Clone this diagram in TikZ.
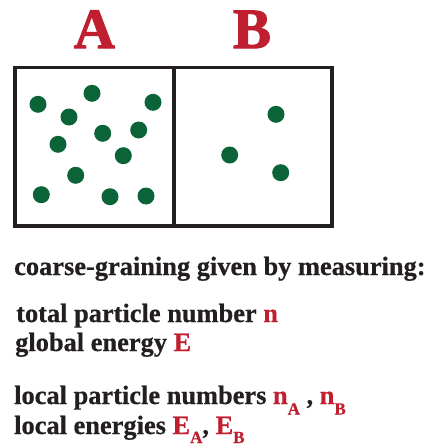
\documentclass[tikz,border=0pt]{standalone}
\usepackage{fontspec}
\setmainfont{Liberation Serif}[BoldFeatures={FakeBold=0.6}]
\newfontfamily\heavyfont{Liberation Serif Bold}[FakeBold=1.8]
\definecolor{dotgreen}{HTML}{0B6338}
\definecolor{lblred}{HTML}{C01F2F}
\definecolor{ink}{HTML}{231F20}
\newcommand{\sbA}[2][10.5pt]{\raisebox{-#1}{\fontsize{17}{17}\bfseries\selectfont #2}}
\begin{document}
\begin{tikzpicture}[x=1pt,y=-1pt,
  particle/.style={circle,fill=dotgreen,inner sep=0pt,minimum size=17pt},
  wall/.style={draw=ink,line width=3.6pt},
  bigletter/.style={font=\heavyfont\fontsize{57}{57}\selectfont,text=lblred,anchor=base,inner sep=0pt},
  textline/.style={font=\fontsize{26.4}{30}\bfseries\selectfont,text=ink,anchor=base west,inner sep=0pt}]
\useasboundingbox (0,0) rectangle (427,447);
\node[bigletter] (la) at (94.5,48) {A};
\node[bigletter] (lb) at (252,48) {B};
\draw[wall] (15,67.5) rectangle (332,226);
\draw[wall] (174,67.5) -- (174,226);
\foreach \x/\y [count=\i] in {38/104.3,92/93.3,153/102.3,69/117,102.7/133.3,138.7/130,58/144.3,123.3/155.7,75.7/175.3,41.3/194.7,110/196.7,146/196,276/114.3,229.7/155,280.7/172.7}
  \node[particle] (p\i) at (\x,\y) {};
\node[textline] (t1) at (14,275) {coarse-graining given by measuring:};
\node[textline] (t2) at (16,322) {total particle number \textcolor{lblred}{n}};
\node[textline] (t3) at (15,351) {global energy \textcolor{lblred}{E}};
\node[textline] (t4) at (14,404) {local particle numbers \textcolor{lblred}{n\sbA{A}} , \textcolor{lblred}{n\sbA{B}}};
\node[textline] (t5) at (14,434) {local energies \textcolor{lblred}{E\sbA[9pt]{A}}, \textcolor{lblred}{E\sbA[9pt]{B}}};
\end{tikzpicture}
\end{document}
